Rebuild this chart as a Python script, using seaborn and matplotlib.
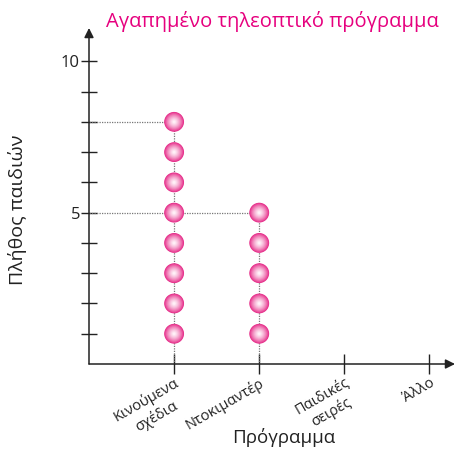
import numpy as np
import pandas as pd
import matplotlib
matplotlib.use("Agg")
import matplotlib.pyplot as plt
import seaborn as sns
from matplotlib.colors import to_rgb

# data
categories = ["Κινούμενα\nσχέδια", "Ντοκιμαντέρ", "Παιδικές\nσειρές", "Άλλο"]
counts = [8, 5, 0, 0]
yticks_labeled = [5, 10]
title = "Αγαπημένο τηλεοπτικό πρόγραμμα"
xlabel = "Πρόγραμμα"
ylabel = "Πλήθος παιδιών"

sns.set_style("white")
plt.rcParams["font.family"] = ["Open Sans", "DejaVu Sans"]

pink = "#e62e8a"
light = "#fff0f7"

# one row per dot
rows = []
for i, (c, n) in enumerate(zip(categories, counts)):
    for k in range(1, n + 1):
        rows.append({"cat": i, "kids": k})
dots = pd.DataFrame(rows)

fig = plt.figure(figsize=(4.55, 4.51), dpi=100)
ax = fig.add_axes([89 / 455, 87 / 451, 366 / 455, 336 / 451])
ax.set_xlim(-1, 3.3)
ax.set_ylim(0, 11.1)

# dotted guide lines
for i, n in enumerate(counts):
    if n > 0:
        ax.vlines(i, 0, n, colors="#777777", linestyles=(0, (1, 1)), lw=0.9, zorder=1)
        ax.hlines(n, -1, i, colors="#777777", linestyles=(0, (1, 1)), lw=0.9, zorder=1)

# shaded spheres: stacked layers
c0, c1 = np.array(to_rgb(pink)), np.array(to_rgb(light))
layers = 14
for j in range(layers):
    t = j / (layers - 1)
    col = tuple(c0 * (1 - t) + c1 * t)
    size = 200 * (1 - t) ** 1.3 + 4
    sns.scatterplot(data=dots, x="cat", y="kids", ax=ax, s=size, color=col,
                    edgecolor="none", linewidth=0, zorder=3 + j, legend=False)

# axes drawn as arrows
for s in ax.spines.values():
    s.set_visible(False)
ax.annotate("", xy=(1.0, 0), xytext=(0, 0), xycoords="axes fraction",
            arrowprops=dict(arrowstyle="-|>", color="#222222", lw=1.1,
                            mutation_scale=14, shrinkA=0, shrinkB=0))
ax.annotate("", xy=(0, 1.0), xytext=(0, 0), xycoords="axes fraction",
            arrowprops=dict(arrowstyle="-|>", color="#222222", lw=1.1,
                            mutation_scale=14, shrinkA=0, shrinkB=0))

ax.set_yticks(range(1, 11))
ax.set_yticklabels([str(v) if v in yticks_labeled else "" for v in range(1, 11)],
                   fontsize=12, color="#222222")
ax.set_xticks(range(len(categories)))
ax.set_xticklabels(categories, rotation=30, ha="right", va="top",
                   rotation_mode="anchor", multialignment="center",
                   fontsize=10.5, color="#222222")
ax.tick_params(axis="y", direction="inout", length=11, width=1, color="#222222", pad=1,
               left=True)
ax.tick_params(axis="x", direction="inout", length=14, width=1, color="#222222", pad=1,
               bottom=True)
ax.set_xlabel(xlabel, fontsize=13.5, color="#222222", va="center")
ax.xaxis.set_label_coords(0.533, -0.22)
ax.set_ylabel(ylabel, fontsize=14, color="#222222", va="center")
ax.yaxis.set_label_coords(-0.194, 0.458)
ax.grid(False)

fig.text(272 / 455, 1 - 22 / 451, title, color="#e6007e", fontsize=14.5,
         ha="center", va="center")

fig.savefig("out.png", dpi=100)
